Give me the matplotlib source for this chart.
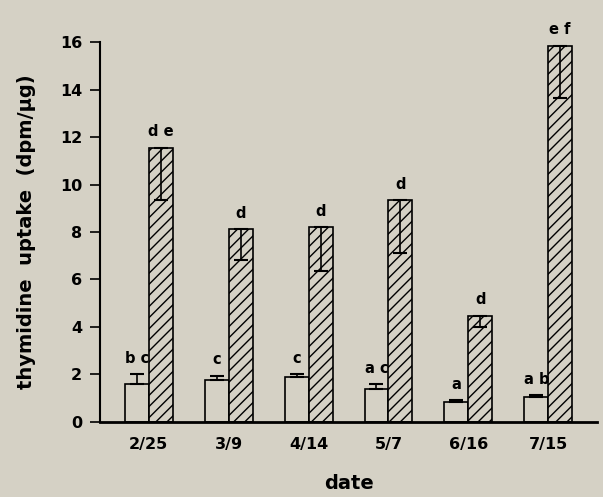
import matplotlib.pyplot as plt
import numpy as np

# values
dates = ['2/25', '3/9', '4/14', '5/7', '6/16', '7/15']
open_mean = [1.58, 1.76, 1.90, 1.38, 0.82, 1.03]
open_err = [0.42, 0.18, 0.10, 0.20, 0.10, 0.08]
hatched_mean = [11.55, 8.13, 8.20, 9.33, 4.47, 15.85]
hatched_err = [2.20, 1.31, 1.84, 2.20, 0.47, 2.19]
open_letters = ['b c', 'c', 'c', 'a c', 'a', 'a b']
hatched_letters = ['d e', 'd', 'd', 'd', 'd', 'e f']

bg = '#d5d1c5'
plt.rcParams['font.family'] = ['DejaVu Sans']
plt.rcParams['hatch.linewidth'] = 1.0

fig = plt.figure(figsize=(6.03, 4.97), dpi=100, facecolor=bg)
ax = fig.add_axes([0.166, 0.1515, 0.824, 0.7635], facecolor=bg)

x = np.arange(len(dates))
w = 0.3
ax.bar(x - w / 2, open_mean, w, color=bg, edgecolor='black', linewidth=1.2)
ax.bar(x + w / 2, hatched_mean, w, color=bg, edgecolor='black', linewidth=1.2, hatch='///')

# error bars: up for open bars, down (inside) for hatched bars
ax.errorbar(x - w / 2, open_mean, yerr=[np.zeros(len(x)), open_err], fmt='none',
            ecolor='black', elinewidth=1.2, capsize=5, capthick=1.5)
ax.errorbar(x + w / 2, hatched_mean, yerr=[hatched_err, np.zeros(len(x))], fmt='none',
            ecolor='black', elinewidth=1.2, capsize=5, capthick=1.5)

for i in range(len(x)):
    ax.annotate(open_letters[i], (x[i] - w / 2, open_mean[i] + open_err[i]),
                xytext=(0, 6), textcoords='offset points', ha='center', va='bottom',
                fontsize=10.5, fontweight='bold')
    ax.annotate(hatched_letters[i], (x[i] + w / 2, hatched_mean[i]),
                xytext=(0, 6), textcoords='offset points', ha='center', va='bottom',
                fontsize=10.5, fontweight='bold')

ax.set_xlim(-0.61, 5.61)
ax.set_ylim(0, 16)
ax.set_yticks(range(0, 17, 2))
ax.set_xticks(x)
ax.set_xticklabels(dates)
ax.tick_params(axis='x', length=0, pad=11, labelsize=11.5)
ax.tick_params(axis='y', length=7, width=1.2, labelsize=11.5, pad=6)
for lab in ax.get_xticklabels() + ax.get_yticklabels():
    lab.set_fontweight('bold')
ax.spines['top'].set_visible(False)
ax.spines['right'].set_visible(False)
ax.spines['left'].set_linewidth(1.5)
ax.spines['bottom'].set_linewidth(2)
ax.set_xlabel('date', fontsize=14, fontweight='bold')
ax.xaxis.set_label_coords(0.5, -0.138)
ax.set_ylabel('thymidine  uptake  (dpm/µg)', fontsize=14, fontweight='bold')
ax.yaxis.set_label_coords(-0.13, 0.5)

fig.savefig('out.png', dpi=100, facecolor=bg)
